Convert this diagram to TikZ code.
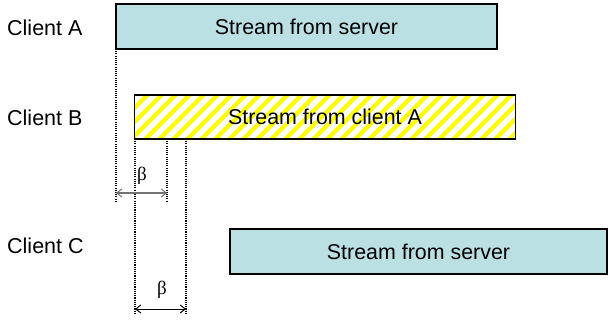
\documentclass[tikz,border=0pt]{standalone}
\usepackage{fontspec}
\setmainfont{Liberation Sans}
\newfontfamily\greekfont{Liberation Serif}
\usetikzlibrary{arrows.meta,positioning,patterns.meta}
\definecolor{streamblue}{RGB}{187,224,227}

\begin{document}
\begin{tikzpicture}[x=1pt, y=-1pt,
  stream/.style={draw, line width=1.3pt, inner sep=0pt, outer sep=0pt, minimum height=45pt, font=\fontsize{21.4}{25}\selectfont},
  server/.style={stream, fill=streamblue},
  relay/.style={stream, pattern={Lines[angle=45, distance=10.5pt, line width=4.5pt]}, pattern color=yellow},
  client/.style={anchor=west, inner sep=0pt, font=\fontsize{21.5}{25}\selectfont},
  guide/.style={line width=1.1pt, dash pattern=on 1.1pt off 1.1pt},
  gap/.style={line width=1pt, {Straight Barb[length=5pt,width=8pt]}-{Straight Barb[length=5pt,width=8pt]}},
  lab/.style={font=\greekfont\fontsize{19}{22}\selectfont}]
  \useasboundingbox (0,0) rectangle (609,320);
  \node[client] (ca) at (7,28) {Client A};
  \node[client] (cb) at (7,118) {Client B};
  \node[client] (cc) at (7,246) {Client C};
  \node[server, minimum width=381pt] (srvA) at (306.5,26.5) {Stream from server};
  \node[relay, minimum width=381pt, minimum height=44pt] (relB) at (325,117) {Stream from client A};
  \node[server, minimum width=377pt] (srvC) at (418.5,251.5) {Stream from server};
  \coordinate (tA) at (116,202);
  \coordinate (tB) at (135,313);
  \coordinate (m1) at (167,139);
  \coordinate (m1e) at (167,202);
  \coordinate (m2) at (186,139);
  \coordinate (m2e) at (186,313);
  \foreach \a/\b in {srvA.south west/tA, tB|-relB.south/tB, m1/m1e, m2/m2e} {
    \draw[guide] (\a) -- (\b);
  }
  \coordinate (g1l) at (116,193);
  \coordinate (g1r) at (167,193);
  \coordinate (g2l) at (135,309);
  \coordinate (g2r) at (186,309);
  \draw[gap, black!55] (g1l) -- (g1r);
  \draw[gap] (g2l) -- (g2r);
  \node[lab] (beta1) at (142,176) {β};
  \node[lab] (beta2) at (162,290) {β};
\end{tikzpicture}
\end{document}
